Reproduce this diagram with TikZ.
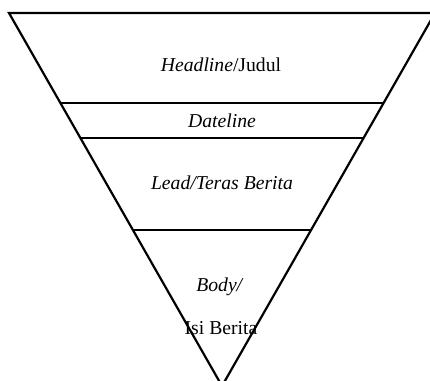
\documentclass[tikz,border=0pt]{standalone}
\usepackage{fontspec}
\setmainfont{Liberation Serif}
\usepackage{tikz}
\usetikzlibrary{calc}
\tikzset{edge/.style = {draw, line width=1.25pt}}
\tikzset{label/.style = {font=\fontsize{11.2}{13}\selectfont, align=center}}

\begin{document}
\begin{tikzpicture}[x=0.02cm, y=-0.02cm]
        \useasboundingbox (0,0) rectangle (430,381);
        \clip (0,0) rectangle (430,381);

        \coordinate (TL) at (9,13);
        \coordinate (TR) at (435,13);
        \coordinate (apex) at (222,386);

        % inverted triangle
        \draw[edge] (TL) -- (TR) -- (apex) -- cycle;

        % dividing lines
        \draw[edge] ($(TL)!0.241!(apex)$) -- ($(TR)!0.241!(apex)$);
        \draw[edge] ($(TL)!0.335!(apex)$) -- ($(TR)!0.335!(apex)$);
        \draw[edge] ($(TL)!0.582!(apex)$) -- ($(TR)!0.582!(apex)$);

        \node (head) [label] at (221,65) {\textit{Headline}/Judul};
        \node (date) [label] at (222,121) {\textit{Dateline}};
        \node (lead) [label] at (222,183) {\textit{Lead/Teras Berita}};
        \node (body) [label] at (220,287) {\textit{Body/}};
        \node (isi) [label] at (221,328) {Isi Berita};

    \end{tikzpicture}
\end{document}
